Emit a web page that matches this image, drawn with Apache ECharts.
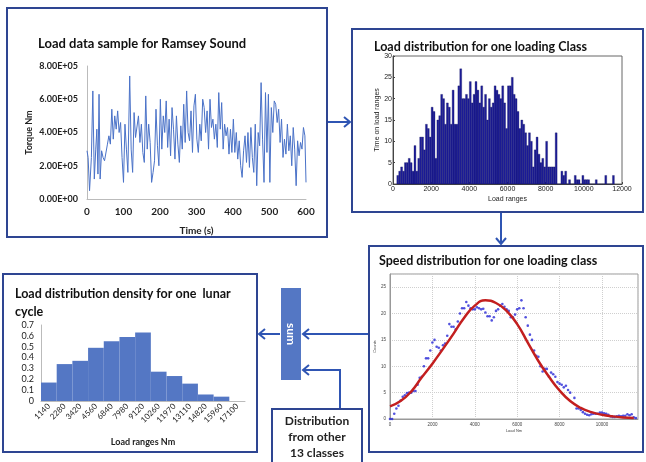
<!DOCTYPE html>
<html>
<head>
<meta charset="utf-8">
<script src="https://cdn.jsdelivr.net/npm/echarts@6/dist/echarts.min.js"></script>
<style>
  html, body { margin: 0; padding: 0; background: #fff; }
  #chart { width: 646px; height: 462px; }
</style>
</head>
<body>
<div id="chart"></div>
<script>
// panel 1 : load data sample (time s, torque in 1e5 Nm)
var torqueTime = [0,3,7,12,16,20,24,27,30,33,36,40,44,48,52,56,60,64,68,72,76,80,84,88,92,96,100,104,108,112,117,121,125,129,133,137,141,145,149,153,157,161,165,169,173,177,181,185,189,193,197,201,205,209,213,217,221,225,229,233,237,241,245,249,253,257,261,265,269,273,277,281,285,289,293,297,301,305,309,313,317,321,325,329,333,337,341,345,349,353,357,361,365,369,373,377,381,385,389,393,397,401,405,409,413,417,421,425,429,433,437,441,445,449,453,457,461,465,469,473,477,481,485,489,493,497,501,505,509,513,517,521,525,529,533,537,541,545,549,553,557,561,565,569,573,577,581,585,589,593,597,600];
var torqueValue = [2.9,2.5,0.5,2.5,6.5,1.2,3.0,4.2,1.5,6.3,1.2,2.9,2.5,2.3,2.2,3.3,3.8,3.3,5.4,3.6,5.0,4.2,5.3,4.0,4.6,2.5,1.0,4.5,3.0,1.6,7.4,3.0,1.6,5.2,3.7,3.8,5.0,3.4,4.5,2.8,2.2,6.2,3.0,4.5,3.4,1.0,1.6,2.3,5.4,3.2,2.0,6.0,3.0,5.0,4.0,5.9,3.1,4.8,2.6,5.5,4.2,2.4,5.0,3.3,2.2,4.4,3.0,5.7,3.4,6.5,4.0,3.5,5.3,2.8,5.6,6.3,3.6,2.8,4.5,3.5,6.0,5.5,4.0,5.3,3.0,6.0,4.3,4.8,3.6,4.5,3.1,6.4,4.2,5.8,3.0,4.5,3.8,4.3,2.7,4.2,2.8,4.8,2.8,4.0,2.4,3.5,2.0,1.3,2.9,3.8,2.2,4.0,1.9,4.3,2.5,1.6,4.5,0.8,4.0,3.2,7.0,3.6,1.0,6.4,2.8,6.3,1.0,5.5,4.0,5.9,5.7,4.6,5.4,3.4,4.8,2.5,3.6,2.7,4.5,2.9,3.8,2.0,4.3,3.0,0.8,3.5,2.6,3.4,3.0,4.3,3.8,1.0];
var torqueTicks = ['0.00E+00', '2.00E+05', '4.00E+05', '6.00E+05', '8.00E+05'];

// panel 2 : histogram, bins of 100 starting at 200
var histStart = 200;
var histBin = 100;
var histCounts = [2,3,4,3,5,5,6,5,3,9,3,6,11,11,8,14,13,11,
  18,17,6,15,16,21,20,14,19,18,14,22,14,14,23,27,20,20,21,20,
  24,19,21,24,22,19,23,18,21,15,20,18,19,23,22,21,20,23,19,13,
  23,23,25,21,20,17,13,15,14,12,9,12,10,4,8,11,7,5,6,4,
  10,4,4,4,4,12,
  0,0,3,2,3,0,1,0,0,2,1,1,0,2,1,1,1,0,0,0,1,0,0,0,0,2,0,0,0,2];

// panel 3 : counts every 100 Nm from 0, plus fitted curve
var speedStep = 100;
var speedCounts = [0,0,1,2,2.5,3.5,4.2,4.5,4.9,5,5,5.3,5.3,6.5,7.8,8,10,11.5,11.5,13,14.5,15,13.7,13.5,13,14,14.3,15.8,18,17.5,17.5,17,18.5,20,21,21,22.2,21.5,21,20.8,20.8,21.2,21,20.8,20.9,20.2,19.5,19.5,18.7,19.3,20.5,20.8,21.5,21.8,21.3,20.8,20.5,19.3,19.3,19.8,20.8,21,22.5,21,19.3,17.7,16,15,13,12,11.8,10,9,9.5,9.5,8,8.8,8.5,8,7,6.7,6.5,6,6.3,5.5,5,null,4,2,2,1.7,1.3,1,0.8,0.7,0.9,1,1,1,1.2,1.2,1.1,1,0.8,0.5,0.4,0.4,0.5,0.6,0.5,0.6,0.6,0.9,0.7,0.9,0.3,0.2];
var fitLoads = [0,500,1000,1500,2000,2500,3000,3500,4000,4500,5000,5500,6000,6500,7000,7500,8000,8500,9000,9500,10000,10500,11000,11500];
var fitCounts = [2.4,3.4,5.2,7.9,10.5,13.3,16.2,19.2,21.5,22.5,22.0,20.5,18.0,14.5,11.0,8.0,5.4,3.4,2.1,1.3,0.8,0.5,0.3,0.2];

// panel 4 : density for one lunar cycle
var densityRanges = ['1140','2280','3420','4560','6840','7980','9120','10260','11970','13110','14820','15960','17100'];
var densityProb = [0.17,0.34,0.37,0.49,0.55,0.59,0.63,0.27,0.23,0.16,0.06,0.04,0];

var frame = '#2e4592';
var arrow = '#2f55b3';
var barBlue = '#5477c4';

var torqueData = torqueTime.map(function (t, i) { return [t, torqueValue[i] * 1e5]; });
var histData = histCounts.map(function (c, i) { return [histStart + i * histBin, c]; });
var speedData = [];
speedCounts.forEach(function (c, i) { if (c !== null) speedData.push([i * speedStep, c]); });
var fitData = fitLoads.map(function (l, i) { return [l, fitCounts[i]]; });

function plain(v) { return String(v); }

var chart = echarts.init(document.getElementById('chart'));

var option = {
  backgroundColor: '#fff',
  animation: false,
  title: [
    { text: 'Load data sample for Ramsey Sound', left: 33, top: 32,
      textStyle: { fontFamily: 'Lato', fontWeight: 'bold', fontSize: 13, color: '#111' } },
    { text: 'Load distribution for one loading Class', left: 369, top: 35,
      textStyle: { fontFamily: 'Lato', fontWeight: 'bold', fontSize: 12.5, color: '#111' } },
    { text: 'Speed distribution for one loading class', left: 374, top: 249,
      textStyle: { fontFamily: 'Lato', fontWeight: 'bold', fontSize: 12.5, color: '#111' } },
    { text: 'Load distribution density for one  lunar\ncycle', left: 10, top: 280,
      textStyle: { fontFamily: 'Lato', fontWeight: 'bold', fontSize: 12.5, color: '#111', lineHeight: 18 } }
  ],
  grid: [
    { left: 87, top: 66, width: 219, height: 133 },
    { left: 393, top: 56, width: 229, height: 128, show: true, borderColor: '#666', borderWidth: 1 },
    { left: 390, top: 274, width: 248, height: 145, show: true, borderColor: '#999', borderWidth: 1 },
    { left: 41, top: 325, width: 204, height: 76 }
  ],
  xAxis: [
    { gridIndex: 0, type: 'value', min: 0, max: 600, interval: 100,
      name: 'Time (s)', nameLocation: 'middle', nameGap: 27,
      nameTextStyle: { fontFamily: 'Lato', fontWeight: 'bold', fontSize: 10, color: '#222' },
      axisLine: { lineStyle: { color: '#bbb' } }, axisTick: { show: false }, splitLine: { show: false },
      axisLabel: { fontFamily: 'Lato', fontWeight: 'bold', fontSize: 10, color: '#222', margin: 8 } },
    { gridIndex: 1, type: 'value', min: 0, max: 12000, interval: 2000,
      name: 'Load ranges', nameLocation: 'middle', nameGap: 12,
      nameTextStyle: { fontFamily: 'Liberation Sans', fontSize: 7, color: '#222' },
      axisLine: { lineStyle: { color: '#444' } }, axisTick: { inside: true, length: 2, lineStyle: { color: '#444' } },
      splitLine: { show: false },
      axisLabel: { fontFamily: 'Liberation Sans', fontSize: 7, color: '#222', margin: 2, formatter: plain } },
    { gridIndex: 2, type: 'value', min: 0, max: 11700, interval: 2000,
      name: 'Load Nm', nameLocation: 'middle', nameGap: 10,
      nameTextStyle: { fontFamily: 'Liberation Sans', fontSize: 4, color: '#444' },
      axisLine: { lineStyle: { color: '#999' } }, axisTick: { show: false },
      splitLine: { show: true, lineStyle: { color: '#cfcfcf', type: 'dotted' } },
      axisLabel: { fontFamily: 'Liberation Sans', fontSize: 4.5, color: '#444', margin: 3,
        showMaxLabel: false, formatter: plain } },
    { gridIndex: 3, type: 'category', data: densityRanges,
      name: 'Load ranges Nm', nameLocation: 'middle', nameGap: 37,
      nameTextStyle: { fontFamily: 'Lato', fontWeight: 'bold', fontSize: 9, color: '#222' },
      axisLine: { lineStyle: { color: '#bbb' } }, axisTick: { show: false },
      axisLabel: { interval: 0, rotate: 45, fontFamily: 'Lato', fontSize: 8, color: '#222', margin: 4 } }
  ],
  yAxis: [
    { gridIndex: 0, type: 'value', min: 0, max: 8e5, interval: 2e5,
      name: 'Torque Nm', nameLocation: 'middle', nameGap: 53,
      nameTextStyle: { fontFamily: 'Lato', fontWeight: 'bold', fontSize: 9, color: '#222' },
      axisLine: { show: true, lineStyle: { color: '#bbb' } }, axisTick: { show: false }, splitLine: { show: false },
      axisLabel: { fontFamily: 'Lato', fontWeight: 'bold', fontSize: 9, color: '#222', margin: 9,
        formatter: function (v) { return torqueTicks[Math.round(v / 2e5)]; } } },
    { gridIndex: 1, type: 'value', min: 0, max: 30, interval: 5,
      name: 'Time on load ranges', nameLocation: 'middle', nameGap: 11,
      nameTextStyle: { fontFamily: 'Liberation Sans', fontSize: 7, color: '#222' },
      axisLine: { show: true, lineStyle: { color: '#444' } },
      axisTick: { show: true, inside: true, length: 2, lineStyle: { color: '#444' } },
      splitLine: { show: false },
      axisLabel: { fontFamily: 'Liberation Sans', fontSize: 7, color: '#222', margin: 1 } },
    { gridIndex: 2, type: 'value', min: 0, max: 27.5, interval: 5,
      name: 'Counts', nameLocation: 'middle', nameGap: 11,
      nameTextStyle: { fontFamily: 'Liberation Sans', fontSize: 4, color: '#444' },
      axisLine: { show: true, lineStyle: { color: '#999' } }, axisTick: { show: false },
      splitLine: { show: true, lineStyle: { color: '#cfcfcf', type: 'dotted' } },
      axisLabel: { fontFamily: 'Liberation Sans', fontSize: 4.5, color: '#444', margin: 4, showMaxLabel: false } },
    { gridIndex: 3, type: 'value', min: 0, max: 0.7, interval: 0.1,
      axisLine: { show: true, lineStyle: { color: '#bbb' } }, axisTick: { show: false }, splitLine: { show: false },
      axisLabel: { fontFamily: 'Lato', fontSize: 9, color: '#222', margin: 7 } }
  ],
  series: [
    { type: 'line', xAxisIndex: 0, yAxisIndex: 0, data: torqueData, showSymbol: false,
      lineStyle: { color: '#4a72c8', width: 1 } },
    { type: 'custom', xAxisIndex: 1, yAxisIndex: 1, data: histData,
      renderItem: function (params, api) {
        var x0 = api.value(0);
        var p0 = api.coord([x0, api.value(1)]);
        var p1 = api.coord([x0 + histBin, 0]);
        return { type: 'rect',
          shape: { x: p0[0], y: p0[1], width: p1[0] - p0[0], height: p1[1] - p0[1] },
          style: { fill: '#1d1d9a', stroke: '#0c0c55', lineWidth: 0.3 } };
      } },
    { type: 'scatter', xAxisIndex: 2, yAxisIndex: 2, data: speedData, symbolSize: 2.6,
      itemStyle: { color: '#2727d6' } },
    { type: 'line', xAxisIndex: 2, yAxisIndex: 2, data: fitData, smooth: true, showSymbol: false,
      lineStyle: { color: '#c31f1f', width: 2.5 } },
    { type: 'bar', xAxisIndex: 3, yAxisIndex: 3, data: densityProb, barCategoryGap: '0%',
      itemStyle: { color: barBlue } }
  ],
  graphic: [
    // panel frames
    { type: 'rect', shape: { x: 7, y: 8, width: 320, height: 229 }, style: { fill: null, stroke: frame, lineWidth: 2 } },
    { type: 'rect', shape: { x: 352, y: 29, width: 291, height: 183 }, style: { fill: null, stroke: frame, lineWidth: 2 } },
    { type: 'rect', shape: { x: 369, y: 246, width: 274, height: 206 }, style: { fill: null, stroke: frame, lineWidth: 2 } },
    { type: 'rect', shape: { x: 3, y: 274, width: 254, height: 178 }, style: { fill: null, stroke: frame, lineWidth: 2 } },
    { type: 'rect', shape: { x: 272, y: 409, width: 90, height: 70 }, style: { fill: '#fff', stroke: frame, lineWidth: 2 } },
    { type: 'text', style: { x: 317, y: 437, text: 'Distribution\nfrom other\n13 classes', textAlign: 'center',
      textVerticalAlign: 'middle', font: 'bold 12px Lato', fill: '#222', lineHeight: 16 } },
    // sum box
    { type: 'rect', shape: { x: 281, y: 288, width: 20, height: 92 }, style: { fill: barBlue } },
    { type: 'text', x: 291, y: 334, rotation: -Math.PI / 2,
      style: { x: 0, y: 0, text: 'sum', textAlign: 'center', textVerticalAlign: 'middle', font: 'bold 12px Lato', fill: '#fff' } },
    // arrows
    { type: 'polyline', shape: { points: [[328, 122], [350, 122]] }, style: { stroke: arrow, lineWidth: 2 } },
    { type: 'polyline', shape: { points: [[344, 117], [350, 122], [344, 127]] }, style: { fill: null, stroke: arrow, lineWidth: 2 } },
    { type: 'polyline', shape: { points: [[501, 213], [501, 244]] }, style: { stroke: arrow, lineWidth: 2 } },
    { type: 'polyline', shape: { points: [[496, 238], [501, 244], [506, 238]] }, style: { fill: null, stroke: arrow, lineWidth: 2 } },
    { type: 'polyline', shape: { points: [[368, 334], [303, 334]] }, style: { stroke: arrow, lineWidth: 2 } },
    { type: 'polyline', shape: { points: [[309, 329], [303, 334], [309, 339]] }, style: { fill: null, stroke: arrow, lineWidth: 2 } },
    { type: 'polyline', shape: { points: [[280, 334], [259, 334]] }, style: { stroke: arrow, lineWidth: 2 } },
    { type: 'polyline', shape: { points: [[265, 329], [259, 334], [265, 339]] }, style: { fill: null, stroke: arrow, lineWidth: 2 } },
    { type: 'polyline', shape: { points: [[340, 408], [340, 370], [303, 370]] }, style: { fill: null, stroke: arrow, lineWidth: 2 } },
    { type: 'polyline', shape: { points: [[309, 365], [303, 370], [309, 375]] }, style: { fill: null, stroke: arrow, lineWidth: 2 } }
  ]
};

chart.setOption(option);
</script>
</body>
</html>
